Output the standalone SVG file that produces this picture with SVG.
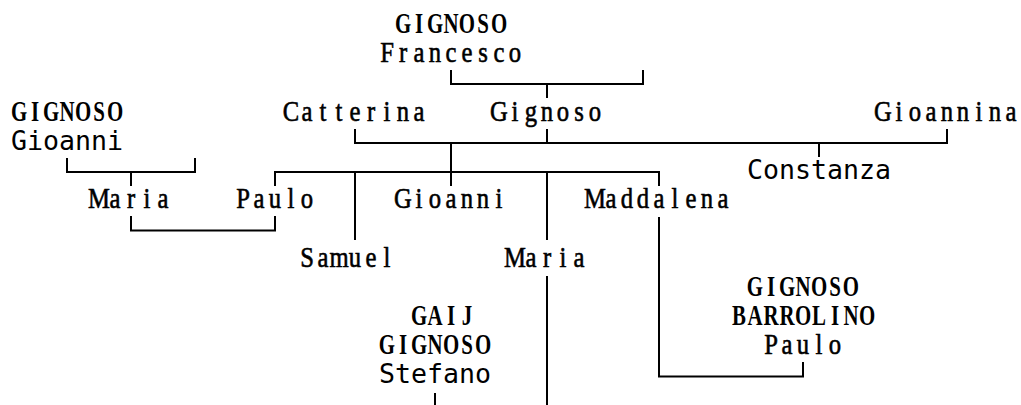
<svg xmlns="http://www.w3.org/2000/svg" width="1021" height="405" viewBox="0 0 1021 405">
<style>
.bg{fill:#fff}
.c{fill:none;stroke:#000;stroke-width:2}
.s{font-family:"Liberation Serif","Times New Roman",serif;font-size:29px;fill:#000;text-anchor:middle}
.b{font-weight:bold}
.l{stroke:#000;stroke-width:0.6}
.m{font-family:"DejaVu Sans Mono","Liberation Mono",monospace;font-size:26.6px;fill:#000}
</style>
<rect class="bg" x="0" y="0" width="1021" height="405"/>
<g id="connectors">
<path class="c" d="M451,70 V84 H643 V70 M547,84 V98"/>
<path class="c" d="M355,129 V143 H947 V129 M547,129 V143 M451,143 V186 M819,143 V157"/>
<path class="c" d="M67,158 V172 H195 V158 M131,172 V186"/>
<path class="c" d="M275,186 V172 H659 V186 M355,172 V240 M547,172 V240"/>
<path class="c" d="M131,216 V230.5 H275 V216"/>
<path class="c" d="M659,217 V376.5 H803 V362"/>
<path class="c" d="M547,276 V405"/>
<path class="c" d="M435,393 V405"/>
</g>
<g transform="scale(0.72,1)">
<g id="n-gignoso-top"><text class="s b" x="559.72 581.94 604.17 626.39 648.61 670.83 693.06" y="33">GIGNOSO</text></g>
<g id="n-gignoso-left"><text class="s b" x="26.39 48.61 70.83 93.06 115.28 137.5 159.72" y="120.6">GIGNOSO</text></g>
<g id="n-gignoso-r9"><text class="s b" x="1048.61 1070.83 1093.06 1115.28 1137.5 1159.72 1181.94" y="295.8">GIGNOSO</text></g>
<g id="n-barrolino"><text class="s b" x="1026.39 1048.61 1070.83 1093.06 1115.28 1137.5 1159.72 1181.94 1204.17" y="325">BARROLINO</text></g>
<g id="n-gaij"><text class="s b" x="581.94 604.17 626.39 648.61" y="325">GAIJ</text></g>
<g id="n-gignoso-r11"><text class="s b" x="537.5 559.72 581.94 604.17 626.39 648.61 670.83" y="354.2">GIGNOSO</text></g>
</g>
<g transform="scale(0.85,1)">
<g id="n-francesco"><text class="s l" x="455.29 474.12 492.94 511.76 530.59 549.41 568.24 587.06 605.88" y="62.2">Francesco</text></g>
<g id="n-catterina"><text class="s l" x="342.35 361.18 380 398.82 417.65 436.47 455.29 474.12 492.94" y="120.6">Catterina</text></g>
<g id="n-gignoso"><text class="s l" x="587.06 605.88 624.71 643.53 662.35 681.18 700" y="120.6">Gignoso</text></g>
<g id="n-gioannina"><text class="s l" x="1038.82 1057.65 1076.47 1095.29 1114.12 1132.94 1151.76 1170.59 1189.41" y="120.6">Gioannina</text></g>
<g id="n-maria1"><text class="s l" x="116.47 135.29 154.12 172.94 191.76" y="208.2">Maria</text></g>
<g id="n-paulo1"><text class="s l" x="285.88 304.71 323.53 342.35 361.18" y="208.2">Paulo</text></g>
<g id="n-gioanni2"><text class="s l" x="474.12 492.94 511.76 530.59 549.41 568.24 587.06" y="208.2">Gioanni</text></g>
<g id="n-maddalena"><text class="s l" x="700 718.82 737.65 756.47 775.29 794.12 812.94 831.76 850.59" y="208.2">Maddalena</text></g>
<g id="n-samuel"><text class="s l" x="361.18 380 398.82 417.65 436.47 455.29" y="266.6">Samuel</text></g>
<g id="n-maria2"><text class="s l" x="605.88 624.71 643.53 662.35 681.18" y="266.6">Maria</text></g>
<g id="n-paulo2"><text class="s l" x="907.06 925.88 944.71 963.53 982.35" y="354.2">Paulo</text></g>
</g>
<g id="n-gioanni1"><text class="m" x="11" y="149.8">Gioanni</text></g>
<g id="n-constanza"><text class="m" x="747" y="179">Constanza</text></g>
<g id="n-stefano"><text class="m" x="379" y="383.4">Stefano</text></g>
</svg>
